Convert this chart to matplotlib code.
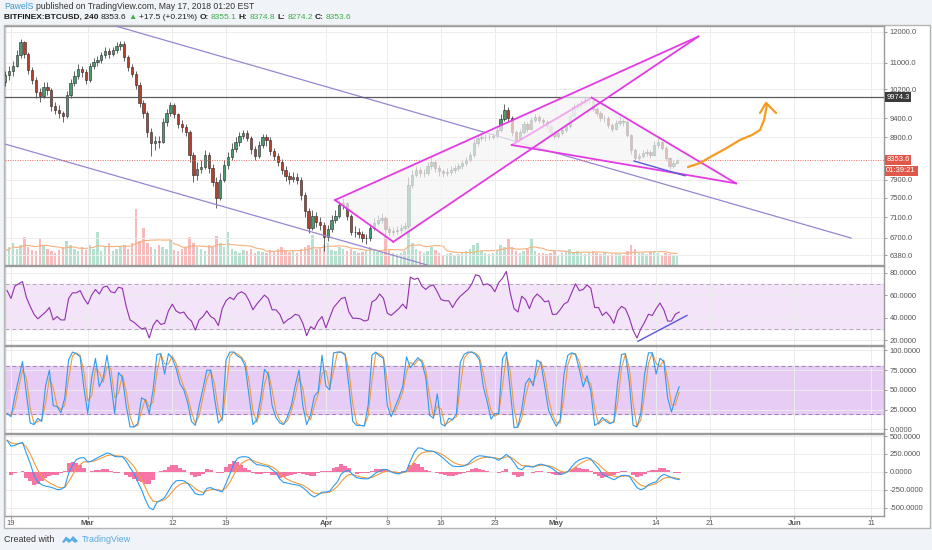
import numpy as np
import pandas as pd
import matplotlib
matplotlib.use("Agg")
import matplotlib.pyplot as plt
import matplotlib.dates as mdates
import matplotlib.transforms as mtransforms
from matplotlib.patches import Polygon, Rectangle

plt.rcParams['font.family'] = ['Liberation Sans', 'DejaVu Sans']

#%% data : BITFINEX:BTCUSD, 12h candles
first_open = 10400
closes = [10620, 10740, 10900, 11250, 11660, 11270, 10770, 10470, 10120, 10010,
          10270, 10180, 9720, 9620, 9540, 9460, 10040, 10380, 10600, 10800,
          10710, 10470, 10900, 11020, 11090, 11240, 11370, 11270, 11400, 11540,
          11610, 11170, 10860, 10650, 10330, 9810, 9540, 9040, 8760, 8810,
          8790, 9300, 9540, 9760, 9510, 9250, 9170, 9040, 8470, 8000,
          8140, 8190, 8470, 8160, 7850, 7500, 7890, 8230, 8420, 8610,
          8790, 8940, 9020, 8890, 8610, 8440, 8710, 8910, 8840, 8570,
          8440, 8300, 8120, 7980, 7910, 7960, 7890, 7560, 7230, 6890,
          7130, 7010, 6950, 6720, 6870, 7050, 7130, 7350, 7390, 7130,
          6810, 6810, 6780, 6700, 6700, 6890, 6990, 7050, 7080, 6870,
          6820, 6830, 6850, 6890, 6920, 7780, 8000, 8120, 8050, 8050,
          8210, 8300, 8160, 8090, 8050, 8070, 8120, 8160, 8210, 8280,
          8350, 8470, 8760, 8890, 8910, 8910, 8910, 8940, 9090, 9380,
          9620, 9400, 9040, 8840, 9040, 9250, 9120, 9350, 9430, 9350,
          9300, 9190, 9040, 8940, 9020, 9090, 9190, 9460, 9700, 9730,
          9810, 9900, 9900, 9650, 9540, 9400, 9400, 9220, 9120, 9270,
          9330, 9300, 8970, 8590, 8400, 8440, 8520, 8540, 8470, 8710,
          8790, 8640, 8400, 8210, 8280, 8353.6]
highs = [10750, 10900, 11050, 11400, 11760, 11700, 11350, 10850, 10550, 10250,
         10400, 10420, 10250, 9850, 9750, 9600, 10150, 10500, 10750, 10950,
         10900, 10800, 11000, 11150, 11200, 11350, 11500, 11450, 11500, 11650,
         11700, 11680, 11250, 10950, 10750, 10400, 9900, 9600, 9150, 8950,
         8950, 9400, 9650, 9850, 9800, 9550, 9350, 9250, 9100, 8550,
         8300, 8350, 8600, 8550, 8250, 7950, 8050, 8350, 8550, 8750,
         8900, 9050, 9100, 9080, 8950, 8700, 8800, 9000, 8980, 8900,
         8650, 8520, 8380, 8200, 8080, 8080, 8050, 7950, 7620, 7300,
         7250, 7200, 7100, 7000, 6950, 7150, 7250, 7450, 7500, 7420,
         7170, 6920, 6880, 6840, 6780, 6950, 7080, 7150, 7180, 7120,
         6920, 6900, 6930, 6960, 7000, 7950, 8120, 8220, 8180, 8150,
         8300, 8420, 8350, 8230, 8150, 8160, 8200, 8240, 8280, 8350,
         8430, 8550, 8850, 8960, 8990, 8980, 8990, 9020, 9180, 9500,
         9780, 9700, 9450, 9100, 9120, 9330, 9300, 9420, 9520, 9480,
         9400, 9350, 9250, 9100, 9100, 9180, 9280, 9550, 9780, 9820,
         9900, 9970, 9990, 9930, 9700, 9600, 9480, 9450, 9280, 9350,
         9420, 9390, 9340, 9000, 8650, 8530, 8600, 8620, 8600, 8800,
         8880, 8820, 8680, 8430, 8360, 8374.8]
lows = [10300, 10480, 10600, 10850, 11150, 11150, 10650, 10350, 9950, 9850,
        9950, 10050, 9600, 9500, 9400, 9300, 9400, 9950, 10300, 10500,
        10550, 10350, 10400, 10800, 10900, 10980, 11150, 11150, 11200, 11300,
        11400, 11050, 10750, 10550, 10200, 9700, 9400, 8900, 8450, 8600,
        8650, 8750, 9200, 9450, 9400, 9150, 9050, 8950, 8300, 7850,
        7900, 8050, 8150, 8050, 7750, 7300, 7450, 7850, 8150, 8350,
        8550, 8700, 8850, 8800, 8500, 8350, 8400, 8650, 8700, 8480,
        8350, 8200, 8020, 7880, 7800, 7850, 7800, 7450, 7100, 6800,
        6850, 6900, 6850, 6450, 6650, 6820, 6980, 7080, 7280, 7050,
        6750, 6720, 6700, 6620, 6580, 6650, 6850, 6950, 6980, 6740,
        6740, 6760, 6780, 6800, 6850, 6880, 7720, 7950, 7950, 7950,
        8000, 8150, 8080, 7980, 7950, 7980, 8000, 8060, 8100, 8150,
        8220, 8300, 8420, 8700, 8800, 8820, 8830, 8850, 8880, 9050,
        9330, 9300, 8950, 8750, 8800, 8980, 9050, 9080, 9300, 9280,
        9200, 9120, 8980, 8860, 8880, 8970, 9050, 9150, 9420, 9620,
        9680, 9750, 9800, 9580, 9450, 9320, 9300, 9150, 9040, 9080,
        9220, 9200, 8900, 8500, 8330, 8360, 8400, 8450, 8400, 8440,
        8650, 8580, 8320, 8150, 8170, 8274.2]
volume = [14, 18, 22, 16, 20, 28, 18, 15, 14, 26,
          20, 16, 14, 12, 15, 18, 24, 20, 16, 14,
          18, 15, 20, 16, 33, 14, 18, 22, 14, 16,
          18, 20, 16, 22, 56, 24, 37, 22, 18, 16,
          20, 18, 16, 25, 15, 14, 16, 18, 28, 22,
          18, 16, 14, 20, 18, 29, 22, 18, 33, 16,
          14, 12, 15, 14, 16, 12, 14, 13, 12, 15,
          14, 16, 18, 14, 13, 15, 12, 16, 18, 20,
          30, 16, 18, 20, 22, 15, 14, 18, 16, 14,
          16, 14, 12, 13, 15, 18, 14, 13, 12, 28,
          16, 12, 11, 12, 14, 57, 22, 16, 14, 12,
          14, 18, 15, 12, 10, 11, 12, 10, 11, 12,
          14, 16, 20, 22, 14, 12, 11, 12, 14, 20,
          18, 27, 18, 14, 12, 14, 16, 27, 14, 12,
          12, 11, 12, 14, 10, 12, 14, 16, 12, 14,
          12, 11, 13, 14, 12, 11, 12, 10, 11, 12,
          11, 10, 14, 20, 16, 12, 12, 11, 13, 14,
          12, 10, 12, 11, 10, 9]

rsi = [64, 57, 68, 70, 72, 58, 50, 43, 39, 42,
       45, 49, 38, 41, 38, 38, 57, 62, 62, 64,
       57, 52, 60, 65, 61, 67, 68, 63, 62, 67,
       66, 50, 38, 36, 33, 30, 31, 22, 33, 38,
       34, 35, 46, 52, 46, 44, 45, 40, 37, 29,
       38, 41, 46, 41, 39, 33, 48, 55, 58, 56,
       61, 63, 61, 55, 47, 52, 56, 60, 57, 47,
       47, 43, 35, 38, 40, 43, 42, 35, 24, 32,
       30, 37, 41, 31, 40, 49, 53, 57, 58, 45,
       39.5, 39.5, 39, 37, 38, 54, 56, 61, 57, 44,
       42, 45, 48, 52, 48, 76, 74, 75, 68, 65,
       68, 69, 63, 56, 55, 55, 49, 55, 59, 62,
       65, 70, 78, 77, 69, 70, 68, 63, 71, 75,
       81, 62, 48, 45, 59, 56, 48, 57, 61, 58,
       54, 55, 43, 43, 47, 52, 54, 62, 70, 64,
       65, 69, 66, 49, 49, 42, 45, 41, 35, 46,
       50, 48, 40, 29, 22, 30, 36, 43, 42, 48,
       53, 47, 37, 37, 43, 45]
stoch_k = [20, 16, 42, 64, 86, 45, 8, 6, 14, 10,
           55, 75, 30, 29, 21, 40, 88, 98, 96, 92,
           52, 20, 65, 90, 54, 65, 94, 60, 20, 72,
           66, 30, 3, 3, 7, 40, 37, 20, 50, 95,
           96, 70, 96, 90, 77, 58, 50, 34, 10, 5,
           30, 52, 75, 75, 40, 8, 14, 88, 98, 98,
           93, 90, 80, 42, 6, 12, 38, 76, 70, 30,
           15, 8, 6, 16, 30, 55, 75, 30, 6, 18,
           42, 48, 94, 55, 50, 97, 98, 98, 94, 55,
           10, 5, 5, 4, 30, 94, 98, 93, 90, 30,
           16, 28, 40, 54, 92, 78, 85, 91, 85, 66,
           18, 14, 45, 7, 4, 14, 12, 20, 85, 95,
           98, 98, 95, 88, 54, 35, 13, 20, 20, 90,
           98, 50, 2, 3, 25, 58, 65, 55, 88, 84,
           54, 24, 13, 4, 12, 70, 94, 97, 95, 76,
           54, 68, 48, 5, 8, 15, 10, 7, 10, 60,
           95, 96, 60, 5, 3, 20, 70, 97, 97, 70,
           90, 86, 40, 22, 40, 54]
macd = [440, 360, 370, 395, 410, 260, 120, -50, -140, -180,
        -200, -210, -225, -248, -245, -210, -20, 90, 170, 195,
        200, 138, 150, 182, 210, 235, 265, 250, 215, 210,
        213, 150, 60, -20, -140, -250, -390, -500, -530, -425,
        -395, -360, -270, -180, -125, -120, -125, -160, -230, -305,
        -320, -320, -230, -220, -245, -262, -280, -160, -30, 110,
        190, 210, 212, 200, 140, 100, 95, 82, 74, 30,
        -10, -100, -148, -157, -170, -180, -188, -220, -265, -320,
        -350, -320, -285, -282, -270, -200, -140, -30, 10, 20,
        -40, -80, -93, -97, -97, -60, -15, 10, 35, 30,
        0, -20, -28, -5, 15, 150, 270, 335, 330, 300,
        292, 287, 255, 215, 170, 120, 80, 74, 74, 82,
        110, 165, 205, 225, 220, 210, 203, 190, 160, 200,
        245, 200, 130, 50, 30, 80, 75, 65, 95, 108,
        92, 75, 45, 0, -35, -25, 5, 70, 130, 167,
        185, 200, 180, 110, 50, -30, -60, -85, -110, -80,
        -50, -50, -60, -140, -220, -250, -230, -180, -155, -140,
        -70, -35, -55, -80, -98, -108]

# drawings, as (days after 19 Feb 2018, price)
base_day = pd.Timestamp('2018-02-19')
chan_top = ([13.54, 109.375], [12206, 6697])
chan_bot = ([-0.78, 54.17], [8737, 6205])
wedge_up = ([42.19, 49.78, 89.49], [7456, 6625, 11841])
wedge_dn = ([65.2, 75.61, 94.4], [8713, 9962, 7817])
support = ([81.12, 87.76], [8327, 7987])
arrow_path = ([88.15, 89.71, 91.28, 92.97, 94.92, 96.48, 97.53, 98.05, 98.31, 98.44],
              [8186, 8280, 8445, 8615, 8838, 8963, 9091, 9353, 9621, 9786])
arrow_head = ([97.53, 98.31, 99.61], [9539, 9814, 9539])
rsi_line = ([81.64, 88.02], [19.1, 42])
resist_level = 9974.3
last_price = 8353.6

price_ticks = [6380, 6700, 7100, 7500, 7900, 8900, 9400, 10200, 11000, 12000]
date_ticks = ['2018-02-19', '2018-03-01', '2018-03-12', '2018-03-19', '2018-04-01', '2018-04-09',
              '2018-04-16', '2018-04-23', '2018-05-01', '2018-05-14', '2018-05-21', '2018-06-01',
              '2018-06-11']
date_labels = ['19', 'Mar', '12', '19', 'Apr', '9', '16', '23', 'May', '14', '21', 'Jun', '11']

#%% prep
def dnum(days):
    return mdates.date2num(base_day + pd.to_timedelta(np.asarray(days, dtype=float), 'D'))

c = np.array(closes, dtype=float)
o = np.concatenate(([first_open], c[:-1]))
h = np.array(highs, dtype=float)
l = np.array(lows, dtype=float)
n = len(c)
t_open = pd.Timestamp('2018-02-18') + pd.to_timedelta(np.arange(n) * 12, 'h')
t_mid = mdates.date2num(t_open + pd.Timedelta(hours=6))
t_end = mdates.date2num(t_open + pd.Timedelta(hours=12))
up = c >= o

sig = pd.Series(macd, dtype=float).ewm(span=4, adjust=False).mean().values
hist = np.array(macd) - sig
stoch_d = pd.Series(stoch_k, dtype=float).rolling(2, min_periods=1).mean().values
vol_ma = pd.Series(volume, dtype=float).rolling(10, min_periods=1).mean().values

W, H = 932, 550
fig = plt.figure(figsize=(W / 100, H / 100), dpi=100, facecolor='#f0f3f7')
fig.add_artist(Rectangle((4 / W, 1 - 528 / H), 926 / W, 503 / H, transform=fig.transFigure,
                         fc='white', ec='#b5b5b5', lw=1, zorder=-5))

def rect(top, bot):
    return [5 / W, 1 - bot / H, 879 / W, (bot - top) / H]

ax_v = fig.add_axes(rect(26, 265))
ax = fig.add_axes(rect(26, 265), sharex=ax_v)
ax_r = fig.add_axes(rect(266, 345), sharex=ax_v)
ax_s = fig.add_axes(rect(346, 433), sharex=ax_v)
ax_m = fig.add_axes(rect(434, 516), sharex=ax_v)

xt = mdates.date2num(pd.to_datetime(date_ticks))
x0, x1 = dnum(-0.78), dnum(113.67)

for a in [ax, ax_r, ax_s, ax_m]:
    a.yaxis.tick_right()
    a.tick_params(axis='y', length=2.5, width=0.6, color='#888', labelsize=5.5, labelcolor='#555', pad=1.5)
    a.tick_params(axis='x', length=0, labelbottom=False)
    a.set_xticks(xt)
    a.grid(True, color='#ececec', lw=0.7)
    a.set_axisbelow(True)
    for s in a.spines.values():
        s.set_color('#9a9a9a')
        s.set_linewidth(1.0)
    a.spines['left'].set_color('#c8c8c8')

ax_v.set_xlim(x0, x1)
ax_v.axis('off')
ax.patch.set_visible(False)

#%% volume
ax_v.bar(t_mid, volume, width=0.32, color=np.where(up, '#9fd8bf', '#f6a5a5'), alpha=0.75, zorder=1)
ax_v.plot(t_mid, vol_ma, color='#f7b07a', lw=0.8, zorder=2)
ax_v.set_ylim(0, 239)

#%% candles
ax.set_yscale('log')
ax.vlines(t_mid, l, h, color='#3a3a3a', lw=0.55, zorder=3)
body = np.maximum(np.abs(c - o), c * 0.0008)
ax.bar(t_mid, body, bottom=np.minimum(o, c), width=0.3, color=np.where(up, '#4a9970', '#b33f2c'),
       edgecolor='#262626', linewidth=0.4, zorder=4)
ax.set_ylim(6205, 12200)
ax.set_yticks(price_ticks)
ax.set_yticks([], minor=True)
ax.set_yticklabels(['%.1f' % p for p in price_ticks])

# drawings
ax.plot(dnum(chan_top[0]), chan_top[1], color='#9a85d2', lw=0.9, zorder=5)
ax.plot(dnum(chan_bot[0]), chan_bot[1], color='#9a85d2', lw=0.9, zorder=5)
for tri, edge_cols in [(wedge_up, ['#e33be3'] * 3), (wedge_dn, ['#f2a6f0', '#e33be3', '#e33be3'])]:
    xs, ys = dnum(tri[0]), tri[1]
    ax.add_patch(Polygon(np.column_stack([xs, ys]), closed=True, fc='#f4f4f4', ec='none', alpha=0.7, zorder=6))
    for k in range(3):
        j = (k + 1) % 3
        ax.plot([xs[k], xs[j]], [ys[k], ys[j]], color=edge_cols[k], lw=1.3, zorder=7)
ax.plot(dnum(support[0]), support[1], color='#5b57d9', lw=1.0, zorder=7)
ax.plot(dnum(arrow_path[0]), arrow_path[1], color='#f39c1f', lw=1.6, zorder=7, solid_capstyle='round')
ax.plot(dnum(arrow_head[0]), arrow_head[1], color='#f39c1f', lw=1.6, zorder=7, solid_capstyle='round')

ax.axhline(resist_level, color='#5a5a5a', lw=0.9, zorder=5)
ax.axhline(last_price, color='#e46a5e', lw=0.7, ls=(0, (1, 1.5)), zorder=5)
tr = mtransforms.blended_transform_factory(ax.transAxes, ax.transData)
ax.text(1.0025, resist_level, '%.1f' % resist_level, transform=tr, fontsize=5.5, color='white', va='center',
        ha='left', zorder=10, bbox=dict(boxstyle='square,pad=0.22', fc='#3a3a3a', ec='none'))
ax.text(1.0025, last_price, '%.1f' % last_price, transform=tr, fontsize=5.5, color='white', va='center',
        ha='left', zorder=10, bbox=dict(boxstyle='square,pad=0.22', fc='#e0584a', ec='none'))
ax.annotate('01:39:21', xy=(1.0025, last_price), xycoords=tr, xytext=(0, -7.8), textcoords='offset points',
            fontsize=5.5, color='white', va='center', ha='left', annotation_clip=False, zorder=10,
            bbox=dict(boxstyle='square,pad=0.22', fc='#e0584a', ec='none'))

#%% RSI
ax_r.axhspan(30, 70, color='#f3e4fa', zorder=0)
for v in (30, 70):
    ax_r.axhline(v, color='#b0a8b8', lw=0.7, ls=(0, (4, 3)), zorder=1)
ax_r.plot(t_end, rsi, color='#9230ad', lw=0.8, zorder=3)
ax_r.plot(dnum(rsi_line[0]), rsi_line[1], color='#5b57d9', lw=1.0, zorder=4)
ax_r.set_ylim(15.8, 85.8)
ax_r.set_yticks([20, 40, 60, 80])
ax_r.set_yticklabels(['%.4f' % v for v in [20, 40, 60, 80]])

#%% Stoch RSI
ax_s.axhspan(20, 80, color='#e7cdf6', zorder=0)
for v in (20, 80):
    ax_s.axhline(v, color='#9a86a8', lw=0.7, ls=(0, (4, 3)), zorder=1)
ax_s.plot(t_end, stoch_k, color='#2d9bf0', lw=0.8, zorder=3)
ax_s.plot(t_end, stoch_d, color='#f39a3c', lw=0.8, zorder=2)
ax_s.set_ylim(-4.7, 105.7)
ax_s.set_yticks([0, 25, 50, 75, 100])
ax_s.set_yticklabels(['%.4f' % v for v in [0, 25, 50, 75, 100]])

#%% MACD
ax_m.bar(t_end, hist, width=0.5, color='#f55d97', alpha=0.85, zorder=2)
ax_m.plot(t_end, macd, color='#2d9bf0', lw=0.8, zorder=4)
ax_m.plot(t_end, sig, color='#f39a3c', lw=0.8, zorder=3)
ax_m.set_ylim(-617, 529)
ax_m.set_yticks([-500, -250, 0, 250, 500])
ax_m.set_yticklabels(['%.4f' % v for v in [-500, -250, 0, 250, 500]])
ax_m.tick_params(axis='x', labelbottom=True, length=2, color='#999', labelsize=5.5, labelcolor='#555', pad=1.2)
ax_m.set_xticklabels(date_labels)
for lab in ax_m.get_xticklabels():
    if lab.get_text().isalpha():
        lab.set_fontweight('bold')

#%% header / footer
rend = fig.canvas.get_renderer()

def write_parts(x, y, parts, size):
    for s, col, wt in parts:
        t = fig.text(x / W, 1 - y / H, s, color=col, fontsize=size, fontweight=wt, va='center', ha='left')
        x += t.get_window_extent(renderer=rend).width + 2.2

write_parts(4, 6.5, [('PawelS', '#3d9ad1', 'normal'),
                     ('published on TradingView.com, May 17, 2018 01:20 EST', '#333333', 'normal')], 6.2)
g = '#3fae49'
write_parts(4, 17.5, [('BITFINEX:BTCUSD, 240', '#1e1e1e', 'bold'), ('8353.6', '#1e1e1e', 'normal'),
                      ('\u25b2', g, 'normal'), ('+17.5 (+0.21%)', '#1e1e1e', 'normal'),
                      ('O:', '#1e1e1e', 'bold'), ('8355.1', g, 'normal'),
                      ('H:', '#1e1e1e', 'bold'), ('8374.8', g, 'normal'),
                      ('L:', '#1e1e1e', 'bold'), ('8274.2', g, 'normal'),
                      ('C:', '#1e1e1e', 'bold'), ('8353.6', g, 'normal')], 6.0)

fig.text(4 / W, 1 - 540 / H, 'Created with', fontsize=6.4, color='#333333', va='center')
logo = np.array([[62, 542], [66, 536.5], [70, 539.5], [73, 536], [78, 541], [75, 543], [72, 540.5],
                 [69, 543], [66, 540.5], [64, 543]])
fig.add_artist(Polygon(np.column_stack([logo[:, 0] / W, 1 - logo[:, 1] / H]), closed=True,
                       transform=fig.transFigure, fc='#5aaee3', ec='none'))
fig.text(82 / W, 1 - 540 / H, 'TradingView', fontsize=6.4, color='#56a8e0', va='center')

fig.savefig('out.png', dpi=100, facecolor=fig.get_facecolor())
